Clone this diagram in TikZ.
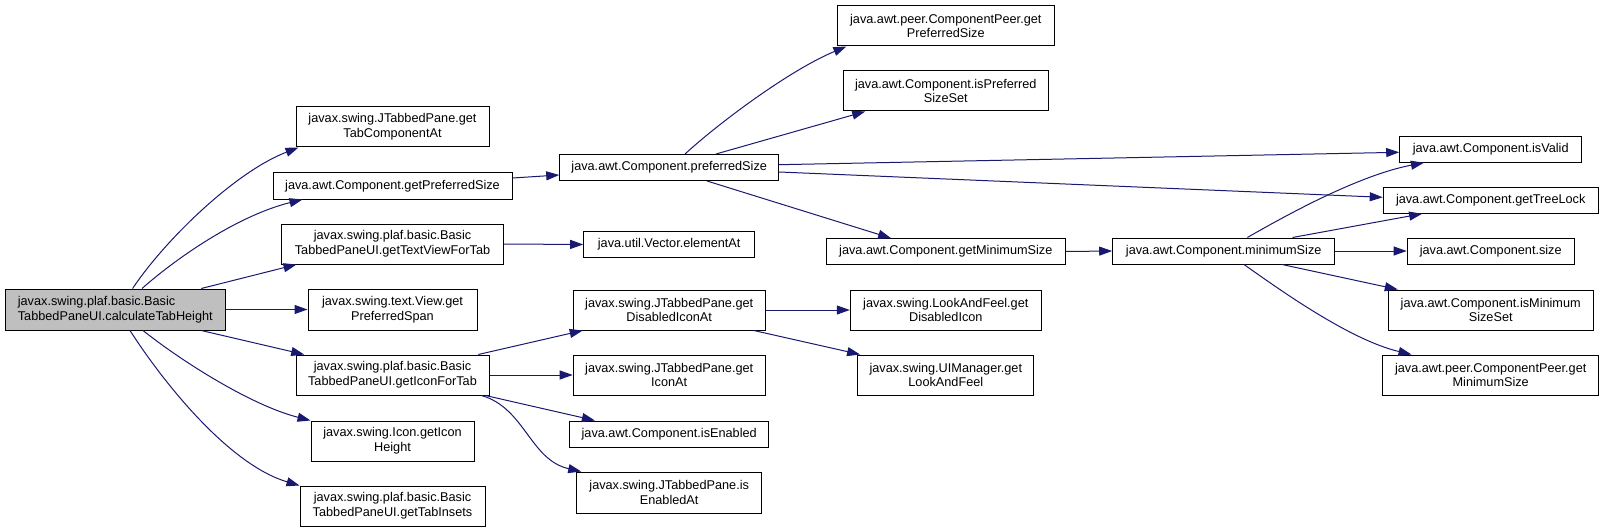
\documentclass[tikz,border=0pt]{standalone}
\usepackage{fontspec}
\setmainfont{Liberation Sans}
\usetikzlibrary{arrows.meta,calc}
\definecolor{edgeblue}{HTML}{191970}
\definecolor{rootgrey}{HTML}{BFBFBF}
\newcommand{\boxfont}{\fontsize{12.7}{14.7}\selectfont}
\begin{document}
\begin{tikzpicture}[x=1pt,y=-1pt,
  box/.style={draw=black, line width=1pt, fill=white, inner sep=0pt, font=\boxfont, align=center},
  rootbox/.style={box, fill=rootgrey, align=left},
  call/.style={draw=edgeblue, line width=1pt, -{Triangle[length=13pt,width=9pt]}}]
\useasboundingbox (0,0) rectangle (1604,532);
% nodes
\node[rootbox, minimum width=220.3, minimum height=41] (root) at (115.3,309.5) {javax.swing.plaf.basic.Basic\\TabbedPaneUI.calculateTabHeight};
\node[box, minimum width=193, minimum height=40] (n1) at (392.5,127) {javax.swing.JTabbedPane.get\\TabComponentAt};
\node[box, minimum width=239, minimum height=26] (n2) at (392.5,186) {java.awt.Component.getPreferredSize};
\node[box, minimum width=222, minimum height=40] (n3) at (392.5,244) {javax.swing.plaf.basic.Basic\\TabbedPaneUI.getTextViewForTab};
\node[box, minimum width=169, minimum height=41] (n4) at (392.5,309.5) {javax.swing.text.View.get\\PreferredSpan};
\node[box, minimum width=193, minimum height=40] (n5) at (392.5,375) {javax.swing.plaf.basic.Basic\\TabbedPaneUI.getIconForTab};
\node[box, minimum width=163, minimum height=40] (n6) at (392.5,441) {javax.swing.Icon.getIcon\\Height};
\node[box, minimum width=185, minimum height=40] (n7) at (392.5,506) {javax.swing.plaf.basic.Basic\\TabbedPaneUI.getTabInsets};
\node[box, minimum width=219, minimum height=26] (p) at (669.2,167.5) {java.awt.Component.preferredSize};
\node[box, minimum width=171, minimum height=26] (v) at (669.2,244.5) {java.util.Vector.elementAt};
\node[box, minimum width=192, minimum height=40] (d) at (669.2,310) {javax.swing.JTabbedPane.get\\DisabledIconAt};
\node[box, minimum width=192, minimum height=40] (ia) at (669.2,375) {javax.swing.JTabbedPane.get\\IconAt};
\node[box, minimum width=199, minimum height=26] (ie) at (669.2,434) {java.awt.Component.isEnabled};
\node[box, minimum width=185, minimum height=41] (iea) at (669.2,492.5) {javax.swing.JTabbedPane.is\\EnabledAt};
\node[box, minimum width=216.5, minimum height=40] (cpp) at (945.8,26) {java.awt.peer.ComponentPeer.get\\PreferredSize};
\node[box, minimum width=205, minimum height=40] (ips) at (945.8,91) {java.awt.Component.isPreferred\\SizeSet};
\node[box, minimum width=239.5, minimum height=25.5] (gms) at (945.8,251.5) {java.awt.Component.getMinimumSize};
\node[box, minimum width=191, minimum height=40] (lf) at (945.8,310) {javax.swing.LookAndFeel.get\\DisabledIcon};
\node[box, minimum width=176, minimum height=40] (ui) at (945.8,375) {javax.swing.UIManager.get\\LookAndFeel};
\node[box, minimum width=222, minimum height=26] (ms) at (1223.7,251) {java.awt.Component.minimumSize};
\node[box, minimum width=182, minimum height=25.5] (iv) at (1490.7,149.5) {java.awt.Component.isValid};
\node[box, minimum width=215, minimum height=25.5] (tl) at (1490.7,200.5) {java.awt.Component.getTreeLock};
\node[box, minimum width=167, minimum height=26] (sz) at (1490.7,251) {java.awt.Component.size};
\node[box, minimum width=205.4, minimum height=40] (imss) at (1490.7,310) {java.awt.Component.isMinimum\\SizeSet};
\node[box, minimum width=216, minimum height=40] (cpm) at (1490.7,375) {java.awt.peer.ComponentPeer.get\\MinimumSize};
% edges from root
\draw[call] ($(root.north)+(17.3,0)$) .. controls (165,240) and (235,172) .. ($(n1.south west)+(3,0)$);
\draw[call] ($(root.north)+(26.7,0)$) .. controls (180,255) and (240,215) .. ($(n2.south west)+(30,0)$);
\draw[call] ($(root.north)+(86,0)$) -- ($(n3.south west)+(15.5,0)$);
\draw[call] (root.east) -- (n4.west);
\draw[call] ($(root.south)+(86,0)$) -- ($(n5.north west)+(8.7,0)$);
\draw[call] ($(root.south)+(27.7,0)$) .. controls (180,360) and (250,405) .. (n6.north west);
\draw[call] ($(root.south)+(14.7,0)$) .. controls (165,385) and (230,465) .. (n7.north west);
% second level
\draw[call] ($(n2.east)+(0,-8)$) -- ($(p.west)+(0,7.5)$);
\draw[call] (n3.east) -- (v.west);
\draw[call] ($(n5.north)+(85.8,0)$) -- ($(d.south west)+(10,0)$);
\draw[call] (n5.east) -- (ia.west);
\draw[call] ($(n5.south)+(93,0)$) -- ($(ie.north west)+(25.7,0)$);
\draw[call] ($(n5.south)+(89,0)$) .. controls (525,408) and (530,460) .. ($(iea.north west)+(5,0)$);
% preferredSize
\draw[call] ($(p.north)+(15.8,0)$) .. controls (720,122) and (790,70) .. ($(cpp.south west)+(9.3,0)$);
\draw[call] ($(p.north)+(46.8,0)$) -- ($(ips.south west)+(22.4,0)$);
\draw[call] ($(p.east)+(0,-2.8)$) -- ($(iv.west)+(0,2.8)$);
\draw[call] ($(p.east)+(0,4.5)$) -- ($(tl.west)+(0,-3.2)$);
\draw[call] ($(p.south)+(37.8,0)$) -- ($(gms.north west)+(65.6,0)$);
% getDisabledIconAt
\draw[call] (d.east) -- (lf.west);
\draw[call] ($(d.south)+(84.6,0)$) -- ($(ui.north west)+(2.8,0)$);
% getMinimumSize / minimumSize
\draw[call] (gms.east) -- (ms.west);
\draw[call] ($(ms.north)+(23.7,0)$) .. controls (1290,213) and (1360,175) .. ($(iv.south west)+(24.7,0)$);
\draw[call] ($(ms.north)+(68.8,0)$) -- ($(tl.south west)+(39.4,0)$);
\draw[call] (ms.east) -- (sz.west);
\draw[call] ($(ms.south)+(58.3,0)$) -- ($(imss.north west)+(10.3,0)$);
\draw[call] ($(ms.south)+(20.3,0)$) .. controls (1280,290) and (1350,340) .. ($(cpm.north west)+(29.3,0)$);
\end{tikzpicture}
\end{document}
